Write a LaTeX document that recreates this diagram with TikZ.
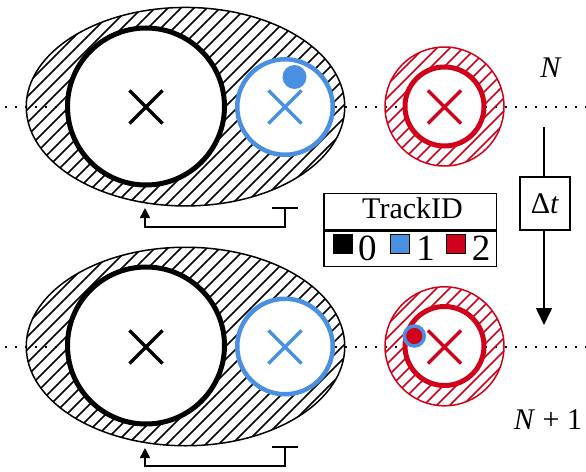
\documentclass[tikz,border=0pt]{standalone}
\usepackage{fontspec}
\setmainfont{Liberation Serif}
\newfontfamily\lserif{Liberation Serif}
\usetikzlibrary{shapes.geometric,shapes.misc,arrows.meta}
\definecolor{tblue}{HTML}{4A90E2}
\definecolor{tred}{HTML}{D0021B}
\begin{document}
\begin{tikzpicture}[x=1pt,y=-1pt,
  dotline/.style={line width=2pt,dash pattern=on 2pt off 8pt,black},
  hatchline/.style={line width=1.5pt},
  blob/.style={ellipse,draw=black,line width=1.5pt,inner sep=0pt,minimum width=318.5pt,minimum height=198.5pt},
  ring/.style={circle,draw=tred,line width=1.5pt,inner sep=0pt,minimum size=119pt},
  trk/.style={circle,fill=white,inner sep=0pt},
  trk0/.style={trk,draw=black,line width=5pt,minimum size=157pt},
  trk1/.style={trk,draw=tblue,line width=4.5pt,minimum size=95.5pt},
  trk2/.style={trk,draw=tred,line width=5pt,minimum size=79pt},
  cross/.style={cross out,draw=#1,line width=3.2pt,minimum size=30pt,inner sep=0pt},
  lbl/.style={font=\lserif\fontsize{30}{36}\selectfont,inner sep=0pt},
  dig/.style={font=\lserif\fontsize{37}{42}\selectfont,inner sep=0pt,anchor=base},
  sq/.style={draw=black,line width=1pt,minimum size=19pt,inner sep=0pt},
  fb/.style={line width=1.6pt,{Bar[width=26pt]}-{Triangle[width=10pt,length=10pt]}},
  frame/.style={draw=black,line width=1.5pt,inner sep=0pt}
]
\fill[white] (0,0) rectangle (586,471);
\useasboundingbox (0,0) rectangle (586,471);

% ---------- dotted reference lines ----------
\coordinate (dA1) at (5,107);   \coordinate (dA2) at (586,107);
\coordinate (dB1) at (5,347);   \coordinate (dB2) at (586,347);
\draw[dotline] (dA1) -- (dA2);
\draw[dotline] (dB1) -- (dB2);

% ---------- hatched regions (drawn directly; lines x+y=c) ----------
\begin{scope}
  \clip (185.5,106.7) ellipse [x radius=159.25pt, y radius=99.25pt];
  \foreach \c in {20,33,...,580} \draw[hatchline,black] (\c-600,600) -- (\c,0);
\end{scope}
\begin{scope}
  \clip (185.5,346.5) ellipse [x radius=159.25pt, y radius=99.25pt];
  \foreach \c in {260,273,...,820} \draw[hatchline,black] (\c-600,600) -- (\c,0);
\end{scope}
\begin{scope}
  \clip (444.5,106.5) circle [radius=59.5pt];
  \foreach \c in {420,433,...,690} \draw[hatchline,tred] (\c-600,600) -- (\c,0);
\end{scope}
\begin{scope}
  \clip (444.5,346.3) circle [radius=59.5pt];
  \foreach \c in {660,673,...,930} \draw[hatchline,tred] (\c-600,600) -- (\c,0);
\end{scope}

% ---------- frame N ----------
\node[blob] (eA) at (185.5,106.7) {};
\node[ring] (rA) at (444.5,106.5) {};
\node[trk0] (c0A) at (146,106.5) {};
\node[trk1] (c1A) at (285,107) {};
\node[trk2] (c2A) at (444.5,106.5) {};
\node[cross=black] (x0A) at (146,107) {};
\node[cross=tblue] (x1A) at (285,107) {};
\node[cross=tred] (x2A) at (444.5,107) {};
\node[circle,fill=tblue,inner sep=0pt,minimum size=24pt] (dotA) at (294.5,77) {};
\node[lbl] (lblN) at (551,68) {\textit{N}};

% ---------- frame N+1 ----------
\node[blob] (eB) at (185.5,346.5) {};
\node[ring] (rB) at (444.5,346.3) {};
\node[trk0] (c0B) at (146,345.5) {};
\node[trk1] (c1B) at (285,346.5) {};
\node[trk2] (c2B) at (444.5,346) {};
\node[cross=black] (x0B) at (146,347) {};
\node[cross=tblue] (x1B) at (285,347) {};
\node[cross=tred] (x2B) at (444.5,347) {};
\node[circle,fill=tred,draw=tblue,line width=3.5pt,inner sep=0pt,minimum size=20pt] (dotB) at (414.3,336) {};
\node[lbl] (lblN1) at (548,420) {\textit{N} + 1};

% ---------- feedback connectors ----------
\coordinate (fbA1) at (285,207);  \coordinate (fbA2) at (145,208);
\coordinate (fbB1) at (285,446);  \coordinate (fbB2) at (145,448);
\draw[fb] (fbA1) -- ++(0,20) -| (fbA2);
\draw[fb] (fbB1) -- ++(0,20) -| (fbB2);

% ---------- time step ----------
\node[frame,minimum width=50pt,minimum height=53pt,font=\lserif\fontsize{30}{36}\selectfont] (dt) at (545,203.5) {Δ\textit{t}};
\coordinate (dtTop) at (544,127);
\coordinate (dtEnd) at (544,325);
\draw[line width=1.6pt] (dtTop) -- (dtTop |- dt.north);
\draw[line width=1.6pt,-{Triangle[width=16pt,length=17pt]}] (dtEnd |- dt.south) -- (dtEnd);

% ---------- legend ----------
\node[frame,minimum width=172.7pt,minimum height=36pt] (legT) at (410.3,211.3) {};
\node[frame,minimum width=172.7pt,minimum height=35.7pt,anchor=north] (legR) at (legT.south) {};
\node[font=\lserif\fontsize{30}{36}\selectfont,inner sep=0pt,anchor=base] (legTxt) at (412.5,218.3) {TrackID};
\node[sq,fill=black] (sq0) at (343.3,244.3) {};
\node[sq,fill=tblue] (sq1) at (400,244.3) {};
\node[sq,fill=tred] (sq2) at (456,244.3) {};
\node[dig] (d0) at (367.3,260) {0};
\node[dig] (d1) at (425.5,260) {1};
\node[dig] (d2) at (481,260) {2};
\end{tikzpicture}
\end{document}
